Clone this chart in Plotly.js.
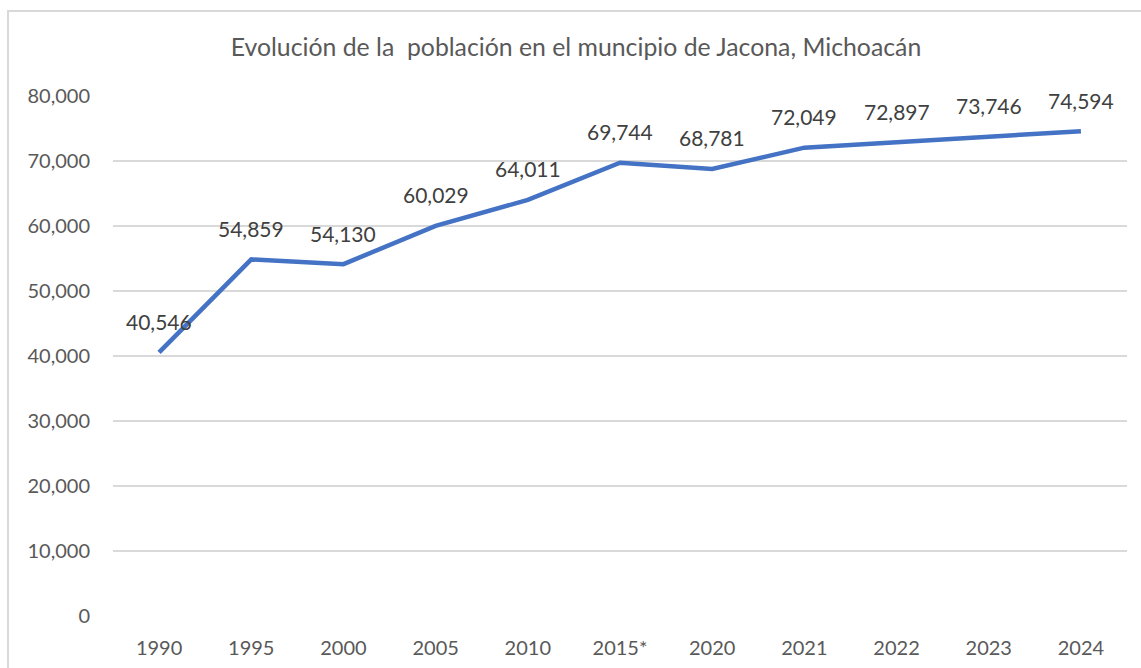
<!DOCTYPE html>
<html><head><meta charset="utf-8">
<script src="https://cdn.plot.ly/plotly-3.0.1.min.js"></script>
<style>
html,body{margin:0;padding:0;background:#fff;overflow:hidden;}
#chart{position:absolute;left:7px;top:10px;width:1140px;height:660px;border-left:2px solid #d9d9d9;border-top:2px solid #d9d9d9;}
</style></head>
<body><div id="chart"></div>
<script>
const years = ["1990","1995","2000","2005","2010","2015*","2020","2021","2022","2023","2024"];
const population = [40546,54859,54130,60029,64011,69744,68781,72049,72897,73746,74594];
const titleText = "Evolución de la &nbsp;población en el muncipio de Jacona, Michoacán";

const fontFam = "Lato, 'Open Sans', sans-serif";
const txtColor = "#595959";

const annotations = years.map((c,i)=>({
  x: i, y: population[i], xref:'x', yref:'y',
  text: population[i].toLocaleString('en-US'),
  showarrow:false, yshift:31,
  font:{family:fontFam,size:21,color:"#404040"}
}));

const trace = {
  x: years, y: population, type:'scatter', mode:'lines',
  line:{color:'#4472C4', width:4.5},
  hoverinfo:'skip'
};

const layout = {
  width:1134, height:658,
  margin:{l:104,r:16,t:84,b:54},
  paper_bgcolor:'#fff', plot_bgcolor:'#fff',
  showlegend:false,
  title:{text:titleText, x:0.5, xanchor:'center', y:0.947, yanchor:'middle',
    font:{family:fontFam,size:24.8,color:txtColor}},
  xaxis:{type:'category', range:[-0.5,10.5], showgrid:false, zeroline:false,
    showline:false, ticks:'', ticklabelstandoff:18,
    tickfont:{family:fontFam,size:20,color:txtColor}},
  yaxis:{range:[0,80000], dtick:10000, tickformat:',', showgrid:true,
    gridcolor:'#d9d9d9', gridwidth:1.5, zeroline:false, showline:false, ticks:'',
    ticklabelstandoff:22,
    tickfont:{family:fontFam,size:20,color:txtColor}},
  annotations: annotations
};
Plotly.newPlot('chart',[trace],layout,{staticPlot:true,displayModeBar:false});
</script></body></html>
